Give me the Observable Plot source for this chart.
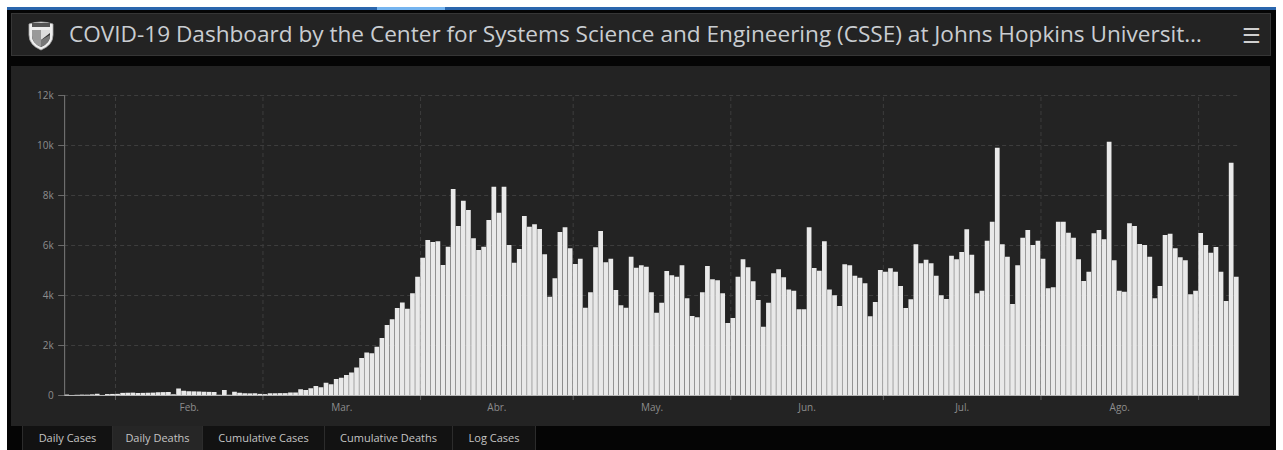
<!DOCTYPE html>
<html><head><meta charset="utf-8">
<script src="https://cdn.jsdelivr.net/npm/d3@7"></script>
<script src="https://cdn.jsdelivr.net/npm/@observablehq/plot@0.6"></script>
<style>
html,body{margin:0;padding:0;background:#fff;width:1283px;height:450px;overflow:hidden;font-family:"Open Sans","Noto Sans",sans-serif;}
#topbar{position:absolute;left:7px;top:7px;width:1269px;height:3px;background:#2a66ad;}
#topbar .hl{position:absolute;left:370px;width:68px;top:0;height:3px;background:#75b4ef;}
#frame{position:absolute;left:7px;top:10px;width:1269px;height:440px;background:#050505;}
#header{position:absolute;left:11px;top:13px;width:1260px;height:43px;background:#232323;border:1px solid #363636;box-sizing:border-box;}
#title{position:absolute;left:57px;top:4px;font-size:22.6px;color:#c9cdd1;white-space:nowrap;}
#logo{position:absolute;left:15px;top:6px;}
#menu{position:absolute;left:1230px;top:7px;font-size:21px;color:#cfcfcf;}
#panel{position:absolute;left:11px;top:66px;width:1259px;height:360px;background:#232323;}
#tabs{position:absolute;left:7px;top:426px;width:1269px;height:24px;background:#050505;font-size:11px;color:#c4c4c4;}
.tab{position:absolute;top:0;height:24px;line-height:24px;text-align:center;border-left:1px solid #2c2c2c;box-sizing:border-box;background:#121212;}
.tab.active{background:#262626;}
</style></head>
<body>
<div id="topbar"><div class="hl"></div></div>
<div id="frame"></div>
<div id="header">
  <svg id="logo" width="28" height="31" viewBox="0 0 28 31">
    <path d="M2 4 Q14 0 26 4 L26 15 Q26 25 14 30 Q2 25 2 15 Z" fill="#eeeeee" stroke="#aaa" stroke-width="0.8"/>
    <rect x="5" y="3" width="18" height="4" fill="#555"/>
    <path d="M5 10 L23 10 L23 16 Q23 23 14 27 Q5 23 5 16 Z" fill="#333"/>
    <path d="M5 10 L14 10 L14 27 Q5 23 5 16 Z" fill="#9a9a9a"/>
    <path d="M14 10 L23 10 L23 13 L14 20 Z" fill="#dcdcdc"/>
    <path d="M14 27 L14 20 L23 15 L23 16 Q23 23 14 27 Z" fill="#777"/>
  </svg>
  <div id="title">COVID-19 Dashboard by the Center for Systems Science and Engineering (CSSE) at Johns Hopkins Universit…</div>
  <div id="menu">☰</div>
</div>
<div id="panel"><div id="chart"></div></div>
<div id="tabs">
  <div class="tab" style="left:15px;width:90px;">Daily Cases</div>
  <div class="tab active" style="left:105px;width:90px;">Daily Deaths</div>
  <div class="tab" style="left:195px;width:122px;">Cumulative Cases</div>
  <div class="tab" style="left:317px;width:128px;">Cumulative Deaths</div>
  <div class="tab" style="left:445px;width:84px;border-right:1px solid #2c2c2c;">Log Cases</div>
</div>
<script>
// ---- data ----
const startDate = "2020-01-22";
const dailyDeaths = [
 17,1,8,16,14,26,49,2,38,42,
 46,85,90,95,80,85,90,95,110,115,
 120,30,260,170,150,145,140,130,125,120,
 10,200,10,130,90,70,65,70,45,35,
 70,70,75,75,100,100,230,200,270,360,
 310,490,430,640,690,800,900,1100,1480,1700,
 1670,1930,2280,2800,3030,3480,3700,3450,4070,4730,
 5490,6200,6120,6150,5200,5930,8240,6760,7770,7400,
 6270,5800,5930,7000,8330,7290,8330,6000,5290,5840,
 7160,6730,6830,6640,5630,3930,4670,6520,6710,5870,
 5240,5450,3490,4110,5910,6560,5310,5450,4200,3590,
 3490,5530,5090,5190,5130,4110,3290,3690,4960,4790,
 4730,5190,3870,3160,3110,4110,5160,4630,4590,4070,
 2880,3080,4730,5430,5110,4550,3800,2730,3690,4870,
 5030,4710,4220,4170,3430,3430,6710,5080,4970,6150,
 4220,3990,3560,5230,5190,4770,4690,4470,3150,3720,
 5000,4930,5070,4930,4360,3480,3830,6030,5270,5410,
 5270,4770,3990,3840,5570,5430,5720,6630,5610,4070,
 4170,6170,6930,9890,6030,5530,3640,5190,6290,6600,
 6000,6170,5450,4270,4310,6930,6930,6490,6290,5430,
 4560,4930,6470,6600,6230,10130,5390,4170,4130,6870,
 6760,6040,6000,5530,3870,4360,6400,6450,5870,5510,
 5390,4030,4170,6480,6000,5690,5920,4930,3760,9290,
 4730
];
const monthStarts = ["2020-02-01","2020-03-01","2020-04-01","2020-05-01","2020-06-01","2020-07-01","2020-08-01","2020-09-01"];
const monthLabels = ["Feb.","Mar.","Abr.","May.","Jun.","Jul.","Ago."];
const yTicks = [0,2000,4000,6000,8000,10000,12000];
const yTickLabels = ["0","2k","4k","6k","8k","10k","12k"];

const t0 = new Date(startDate + "T00:00:00Z");
const rows = dailyDeaths.map((v,i)=>({start:d3.utcDay.offset(t0,i), end:d3.utcDay.offset(t0,i+1), value:v}));
const tEnd = d3.utcDay.offset(t0, dailyDeaths.length);
const starts = monthStarts.map(s=>new Date(s+"T00:00:00Z"));
const mids = monthLabels.map((m,i)=>({label:m, x:new Date((+starts[i] + +starts[i+1])/2)}));
const yMax = yTicks[yTicks.length-1];

const chart = Plot.plot({
  width:1259, height:360,
  marginLeft:53.15, marginRight:31.2, marginTop:29, marginBottom:31,
  style:{background:"transparent", color:"#8d8d8d", fontSize:"10px", fontFamily:"'Open Sans','Noto Sans',sans-serif"},
  x:{type:"utc", domain:[t0,tEnd], axis:null},
  y:{type:"linear", domain:[0,yMax], axis:null},
  marks:[
    Plot.ruleY(yTicks.slice(1), {stroke:"#3d3d3d", strokeDasharray:"4,3"}),
    Plot.ruleX(starts, {y1:0, y2:yMax, stroke:"#3d3d3d", strokeDasharray:"4,3"}),
    Plot.axisX({ticks:starts, tickFormat:()=>"", tickSize:5, stroke:"#5c5c5c", label:null}),
    Plot.rectY(rows, {x1:"start", x2:"end", y:"value", fill:"#e9e9e9", insetLeft:0.18, insetRight:0.18}),
    Plot.ruleY([0], {stroke:"#b5b5b5"}),
    Plot.ruleX([t0], {y1:0, y2:yMax, stroke:"#7a7a7a"}),
    Plot.axisY({ticks:yTicks, tickFormat:d=>yTickLabels[yTicks.indexOf(d)], tickSize:6, tickPadding:5, color:"#8d8d8d", stroke:"#6a6a6a", label:null}),
    Plot.text(mids, {x:"x", text:"label", frameAnchor:"bottom", dy:15, fill:"#8d8d8d"})
  ]
});
document.getElementById("chart").appendChild(chart);
</script>
</body></html>
